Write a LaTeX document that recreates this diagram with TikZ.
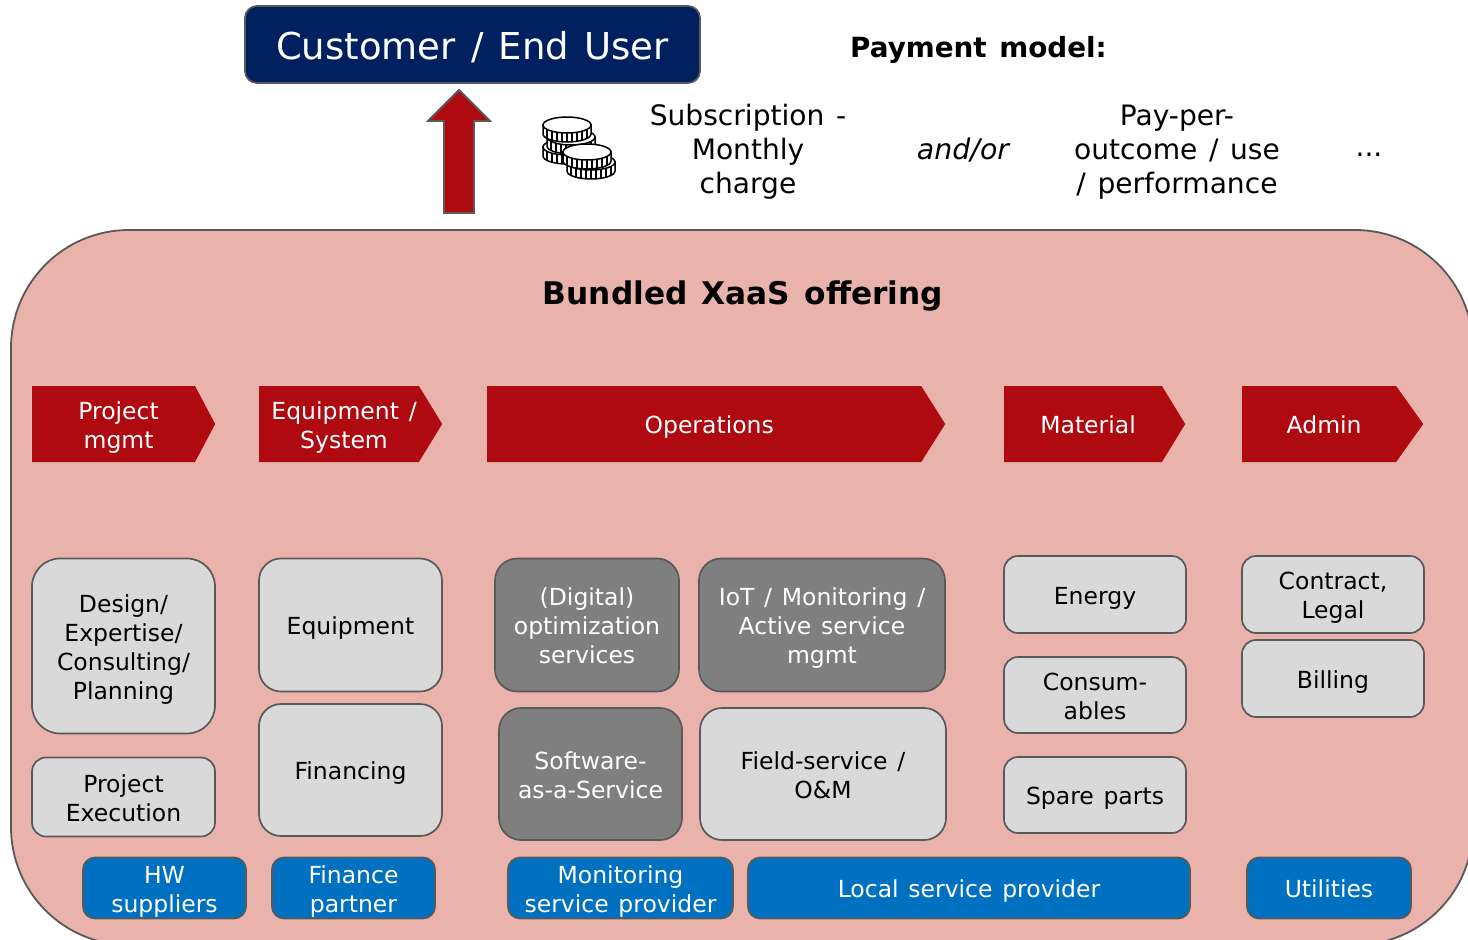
\documentclass[tikz,border=0pt]{standalone}
\usepackage{fontspec}
\setmainfont[WordSpace=1.3]{DejaVu Sans}
\usepackage{xcolor}
\usetikzlibrary{shapes.symbols}
\definecolor{navy}{HTML}{002060}
\definecolor{myred}{HTML}{AF0A10}
\definecolor{mypink}{HTML}{E9B3AC}
\definecolor{mygrey}{HTML}{D9D9D9}
\definecolor{darkgrey}{HTML}{7F7F7F}
\definecolor{myblue}{HTML}{0070C0}
\colorlet{edge}{black!65}
\newcommand{\txt}{\fontsize{23.5}{29}\selectfont}
\newcommand{\pad}{\hspace*{10pt}}
\tikzstyle{lowered}=[execute at begin node={\rule[-5pt]{0pt}{29pt}}]
\tikzstyle{twolines}=[execute at begin node={\rule{0pt}{53pt}}]
\tikzstyle{threelines}=[execute at begin node={\rule{0pt}{82pt}}]
\tikzstyle{fourlines}=[execute at begin node={\rule{0pt}{111pt}}]
\tikzstyle{box}=[draw=edge,line width=1.7pt,align=center,inner sep=0pt,font=\txt,lowered]
\tikzstyle{greybox}=[box,fill=mygrey,text=black,rounded corners=22pt]
\tikzstyle{darkbox}=[box,fill=darkgrey,text=white,rounded corners=22pt]
\tikzstyle{smallbox}=[greybox,rounded corners=14pt,minimum width=182pt,minimum height=77pt]
\tikzstyle{bluebox}=[box,fill=myblue,text=white,rounded corners=12pt,minimum height=61pt]
\tikzstyle{phase}=[signal,signal to=east,signal pointer angle=117,fill=myred,text=white,
  align=center,inner sep=0pt,font=\txt,minimum height=76pt,anchor=west,lowered]
\tikzstyle{toptext}=[align=center,font=\fontsize{28.1}{34}\selectfont]
\newcommand{\coin}[2]{%
  \filldraw[fill=white,draw=black,line width=1.5pt] (#1-24,#2) -- (#1-24,#2+9)
    arc[start angle=180,end angle=0,x radius=24,y radius=8] -- (#1+24,#2) -- cycle;
  \foreach \dx in {-20,-15,...,20}
    \draw[black,line width=1.2pt] (#1+\dx,{#2+8*sqrt(1-(\dx/24)^2)}) -- (#1+\dx,{#2+9+8*sqrt(1-(\dx/24)^2)});
  \draw[black,line width=1.5pt,fill=white] (#1,#2) circle[x radius=24,y radius=8];
}
\begin{document}
\begin{tikzpicture}[x=1pt,y=-1pt]
  \useasboundingbox (0,0) rectangle (1468,940);
  % background
  \fill[white] (0,0) rectangle (1468,940);
  \draw[fill=mypink,draw=edge,line width=1.8pt,rounded corners=118pt] (11,230) rectangle (1473,945);
  \node[font=\fontsize{31.2}{38}\selectfont\bfseries] (title) at (743,296) {Bundled XaaS offering};

  % top row
  \node[box,fill=navy,text=white,rounded corners=12pt,minimum width=455pt,minimum height=77pt,
    execute at begin node={\rule{0pt}{34pt}},font=\fontsize{37}{42}\selectfont] (user) at (472.5,44.5) {Customer / End User};
  \node[font=\fontsize{27.8}{34}\selectfont\bfseries] (payment) at (978.5,50) {Payment model:};
  \draw[fill=myred,draw=edge,line width=1.8pt] (459,90) -- (490,121) -- (474,121) -- (474,213)
    -- (444,213) -- (444,121) -- (428,121) -- cycle;
  \coin{567}{147} \coin{571}{137} \coin{567}{125}
  \coin{591}{162} \coin{587}{152}
  \node[toptext] (subscr) at (748,152) {Subscription -\\Monthly\\charge};
  \node[toptext,font=\fontsize{28.4}{34}\selectfont\itshape] (andor) at (963,150) {and/or};
  \node[toptext] (outcome) at (1177,152) {Pay-per-\\outcome / use\\/ performance};
  \node[toptext] (dots) at (1369,155) {...};

  % phases
  \node[phase,twolines,signal pointer angle=124,minimum width=183pt] (pm) at (32,424) {\pad Project\\\pad mgmt};
  \node[phase,twolines,minimum width=183pt] (eq) at (259,424) {\pad Equipment /\\\pad System};
  \node[phase,signal pointer angle=115.5,minimum width=458pt] (ops) at (487,424) {\pad Operations};
  \node[phase,minimum width=181pt] (mat) at (1004,424) {\pad Material};
  \node[phase,signal pointer angle=109,minimum width=181pt] (adm) at (1242,424) {\pad Admin};

  % services
  \node[greybox,fourlines,rounded corners=28pt,minimum width=183pt,minimum height=175pt] (design) at (123.5,646)
    {Design/\\Expertise/\\Consulting/\\Planning};
  \node[smallbox,twolines,minimum width=183pt,minimum height=79pt] (exec) at (123.5,797) {Project\\Execution};
  \node[greybox,minimum width=183pt,minimum height=133pt] (equip) at (350.5,625) {Equipment};
  \node[greybox,minimum width=183pt,minimum height=132pt] (fin) at (350.5,770) {Financing};
  \node[darkbox,threelines,minimum width=184pt,minimum height=133pt] (digital) at (587,625) {(Digital)\\optimization\\services};
  \node[darkbox,threelines,minimum width=246pt,minimum height=133pt] (iot) at (822,625) {IoT / Monitoring /\\Active service\\mgmt};
  \node[darkbox,twolines,minimum width=183pt,minimum height=132pt] (saas) at (590.5,774) {Software-\\as-a-Service};
  \node[greybox,twolines,minimum width=246pt,minimum height=132pt] (field) at (823,774) {Field-service /\\O\&M};
  \node[smallbox] (energy) at (1095,594.5) {Energy};
  \node[smallbox,twolines,minimum height=76pt] (cons) at (1095,695) {Consum-\\ables};
  \node[smallbox,minimum height=76pt] (spare) at (1095,795) {Spare parts};
  \node[smallbox,twolines] (legal) at (1333,594.5) {Contract,\\Legal};
  \node[smallbox] (bill) at (1333,678.5) {Billing};

  % partners
  \node[bluebox,twolines,minimum width=163pt] (hw) at (164.5,888) {HW\\suppliers};
  \node[bluebox,twolines,minimum width=163pt] (finp) at (353.5,888) {Finance\\partner};
  \node[bluebox,twolines,minimum width=225pt] (mon) at (620.5,888) {Monitoring\\service provider};
  \node[bluebox,minimum width=442pt] (local) at (969,888) {Local service provider};
  \node[bluebox,minimum width=164pt] (util) at (1329,888) {Utilities};
\end{tikzpicture}
\end{document}
